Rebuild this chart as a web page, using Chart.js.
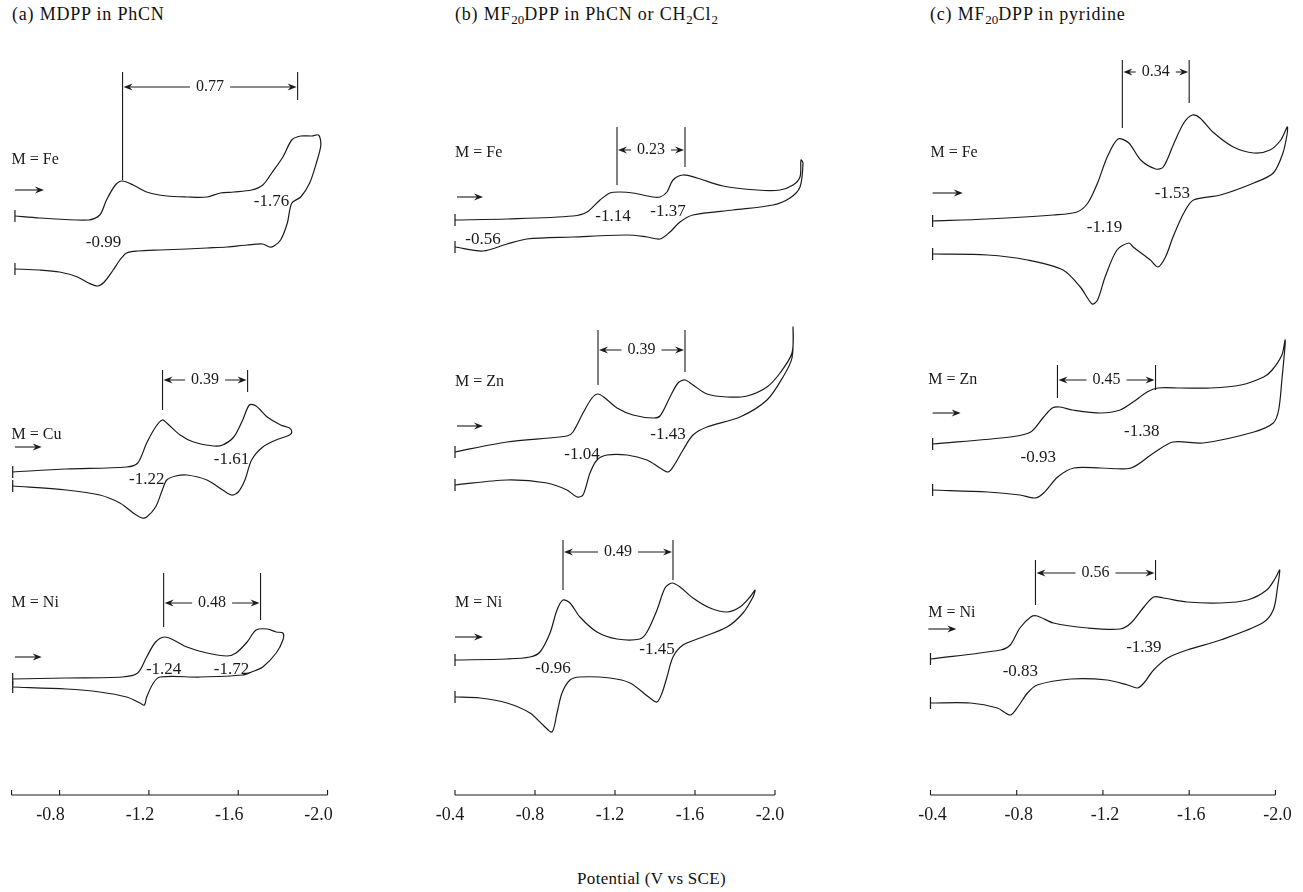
<!DOCTYPE html>
<html>
<head>
<meta charset="utf-8">
<script src="https://cdn.jsdelivr.net/npm/chart.js@4.4.0/dist/chart.umd.min.js"></script>
<style>
  body { margin:0; background:#fff; width:1303px; height:892px; overflow:hidden; position:relative;
         font-family:"Liberation Serif","DejaVu Serif",serif; color:#111; }
  .box { position:absolute; top:0; height:892px; }
  .ttl { position:absolute; top:4px; font-size:18px; letter-spacing:0.8px; white-space:nowrap; }
  .ttl sub { font-size:13px; vertical-align:-4px; line-height:0; letter-spacing:0; }
  #xlab { position:absolute; top:869px; left:0; width:1303px; text-align:center; font-size:17px; letter-spacing:0.3px; }
</style>
</head>
<body>
<div class="ttl" style="left:12px">(a) MDPP in PhCN</div>
<div class="ttl" style="left:455px">(b) MF<sub>20</sub>DPP in PhCN or CH<sub>2</sub>Cl<sub>2</sub></div>
<div class="ttl" style="left:930px">(c) MF<sub>20</sub>DPP in pyridine</div>
<div id="xlab">Potential (V vs SCE)</div>
<div class="box" id="boxa"><canvas id="cva"></canvas></div>
<div class="box" id="boxb"><canvas id="cvb"></canvas></div>
<div class="box" id="boxc"><canvas id="cvc"></canvas></div>
<script>
// potential (V vs SCE), current (a.u., traces stacked)
// (a) MDPP in PhCN
const aFe = [[-0.60,579],[-0.71,577],[-0.93,575],[-0.98,580],[-1.01,595],[-1.05,610],[-1.08,614],[-1.13,610],[-1.19,603],[-1.28,599],[-1.37,598],[-1.46,598],[-1.52,602],[-1.58,603],[-1.66,605],[-1.71,610],[-1.75,622],[-1.80,638],[-1.84,655],[-1.88,659],[-1.93,659],[-1.96,660],[-1.97,650],[-1.95,632],[-1.92,612],[-1.88,598],[-1.84,592],[-1.82,572],[-1.79,555],[-1.76,549],[-1.74,548],[-1.71,551],[-1.64,550],[-1.55,548],[-1.46,547],[-1.37,546],[-1.25,545],[-1.15,544],[-1.10,542],[-1.07,535],[-1.04,525],[-1.00,513],[-0.97,509],[-0.93,512],[-0.88,518],[-0.80,523],[-0.71,525],[-0.60,526]];
const aCu = [[-0.59,323],[-0.83,326],[-1.10,328],[-1.15,332],[-1.19,352],[-1.23,368],[-1.26,375],[-1.28,372],[-1.34,360],[-1.40,353],[-1.49,349],[-1.53,350],[-1.58,358],[-1.62,375],[-1.65,390],[-1.68,389],[-1.73,378],[-1.79,370],[-1.83,367],[-1.84,363],[-1.83,360],[-1.77,355],[-1.71,348],[-1.66,335],[-1.63,315],[-1.60,303],[-1.57,300],[-1.53,305],[-1.46,315],[-1.37,320],[-1.32,319],[-1.28,315],[-1.26,305],[-1.23,288],[-1.19,278],[-1.17,277],[-1.13,282],[-1.07,292],[-0.98,300],[-0.83,305],[-0.59,309]];
const aNi = [[-0.59,116],[-0.83,117],[-1.08,118],[-1.15,122],[-1.19,138],[-1.23,153],[-1.27,158],[-1.31,155],[-1.37,148],[-1.46,142],[-1.55,139],[-1.59,142],[-1.64,153],[-1.68,165],[-1.73,166],[-1.77,163],[-1.80,162],[-1.80,155],[-1.77,142],[-1.71,128],[-1.66,123],[-1.62,120],[-1.43,118],[-1.25,118],[-1.22,112],[-1.19,98],[-1.18,90],[-1.16,92],[-1.10,98],[-0.98,103],[-0.83,106],[-0.59,108]];
// (b) MF20DPP in PhCN or CH2Cl2
const bFe = [[-0.40,575],[-0.66,576],[-0.99,579],[-1.06,583],[-1.125,595],[-1.175,602],[-1.225,603],[-1.29,602],[-1.39,598],[-1.425,598],[-1.46,603],[-1.49,615],[-1.54,620],[-1.61,617],[-1.74,609],[-1.91,605],[-2.025,605],[-2.09,610],[-2.125,618],[-2.13,635],[-2.14,632],[-2.125,608],[-2.075,597],[-1.99,590],[-1.79,585],[-1.59,580],[-1.525,573],[-1.475,563],[-1.425,556],[-1.36,558],[-1.26,560],[-0.99,558],[-0.76,556],[-0.66,551],[-0.54,544],[-0.40,548]];
const bZn = [[-0.40,343],[-0.66,353],[-0.96,359],[-0.99,363],[-1.04,382],[-1.085,397],[-1.115,401],[-1.15,397],[-1.21,387],[-1.29,380],[-1.39,377],[-1.425,379],[-1.475,398],[-1.515,412],[-1.55,415],[-1.59,410],[-1.66,401],[-1.76,398],[-1.86,399],[-1.96,408],[-2.025,422],[-2.085,442],[-2.09,468],[-2.085,437],[-2.04,418],[-1.96,395],[-1.825,378],[-1.66,368],[-1.59,360],[-1.54,345],[-1.49,328],[-1.465,323],[-1.425,327],[-1.36,335],[-1.26,340],[-1.16,340],[-1.11,335],[-1.075,322],[-1.04,300],[-1.01,298],[-0.96,305],[-0.86,312],[-0.66,315],[-0.40,310]];
const bNi = [[-0.40,135],[-0.66,136],[-0.775,138],[-0.825,143],[-0.875,162],[-0.91,185],[-0.94,195],[-0.975,192],[-1.025,178],[-1.11,163],[-1.21,156],[-1.325,156],[-1.36,163],[-1.41,185],[-1.45,207],[-1.485,212],[-1.525,208],[-1.59,197],[-1.675,187],[-1.76,183],[-1.825,188],[-1.875,198],[-1.90,205],[-1.89,198],[-1.84,182],[-1.76,168],[-1.625,157],[-1.54,150],[-1.49,138],[-1.46,118],[-1.435,102],[-1.41,93],[-1.375,97],[-1.275,112],[-1.175,117],[-1.025,118],[-0.975,115],[-0.935,102],[-0.91,82],[-0.885,63],[-0.84,70],[-0.775,82],[-0.66,92],[-0.525,97],[-0.40,98]];
// (c) MF20DPP in pyridine
const cFe = [[-0.41,574],[-0.66,576],[-0.97,580],[-1.08,583],[-1.13,592],[-1.175,612],[-1.22,638],[-1.27,656],[-1.32,652],[-1.375,635],[-1.445,626],[-1.48,628],[-1.53,652],[-1.575,672],[-1.615,680],[-1.65,677],[-1.71,663],[-1.805,648],[-1.90,642],[-1.975,645],[-2.025,655],[-2.055,668],[-2.055,662],[-2.035,642],[-1.99,622],[-1.90,612],[-1.745,600],[-1.62,595],[-1.575,582],[-1.525,558],[-1.49,538],[-1.455,528],[-1.42,535],[-1.34,548],[-1.32,552],[-1.265,545],[-1.21,518],[-1.175,495],[-1.15,491],[-1.095,508],[-1.015,525],[-0.85,535],[-0.665,540],[-0.41,541]];
const cZn = [[-0.41,351],[-0.77,358],[-0.865,363],[-0.925,378],[-0.965,387],[-1.00,388],[-1.06,385],[-1.19,382],[-1.28,385],[-1.34,393],[-1.405,403],[-1.455,407],[-1.56,407],[-1.70,407],[-1.84,410],[-1.945,418],[-1.985,425],[-2.03,440],[-2.045,455],[-2.045,450],[-2.03,415],[-2.015,385],[-1.99,372],[-1.90,363],[-1.665,352],[-1.525,353],[-1.435,342],[-1.33,327],[-1.19,327],[-1.065,327],[-0.99,318],[-0.925,302],[-0.885,297],[-0.815,300],[-0.665,303],[-0.41,305]];
const cNi = [[-0.40,136],[-0.725,145],[-0.77,150],[-0.815,167],[-0.865,178],[-0.895,179],[-0.97,172],[-1.13,167],[-1.28,166],[-1.33,172],[-1.39,188],[-1.435,198],[-1.48,197],[-1.59,193],[-1.745,192],[-1.87,195],[-1.96,205],[-2.00,217],[-2.02,225],[-2.01,208],[-1.99,185],[-1.94,172],[-1.745,155],[-1.59,145],[-1.50,137],[-1.435,125],[-1.39,112],[-1.36,107],[-1.315,110],[-1.22,115],[-1.05,116],[-0.895,110],[-0.85,102],[-0.805,88],[-0.77,80],[-0.71,87],[-0.585,92],[-0.40,92]];

// axis ticks
const aTicks = [-0.8, -1.2, -1.6, -2.0];
const bTicks = [-0.4, -0.8, -1.2, -1.6, -2.0];
const cTicks = [-0.4, -0.8, -1.2, -1.6, -2.0];

// labels: [text, potential, current]
const aMetal = [['M = Fe',-0.585,635],['M = Cu',-0.585,360],['M = Ni',-0.585,192]];
const bMetal = [['M = Fe',-0.40,642],['M = Zn',-0.40,413],['M = Ni',-0.40,192]];
const cMetal = [['M = Fe',-0.40,642],['M = Zn',-0.39,415],['M = Ni',-0.39,182]];
const aPeaks = [['-0.99',-0.997,552],['-1.76',-1.749,593],['-1.22',-1.19,315],['-1.61',-1.57,335],['-1.24',-1.266,125],['-1.72',-1.57,125]];
const bPeaks = [['-0.56',-0.54,555],['-1.14',-1.19,578],['-1.37',-1.465,583],['-1.04',-1.035,340],['-1.43',-1.465,360],['-0.96',-0.89,126],['-1.45',-1.41,145]];
const cPeaks = [['-1.19',-1.207,567],['-1.53',-1.522,601],['-0.93',-0.90,337],['-1.38',-1.38,363],['-0.83',-0.817,123],['-1.39',-1.39,147]];
// scan direction arrows: [from, to, current]
const aScan = [[-0.60,-0.73,605],[-0.60,-0.72,348],[-0.60,-0.72,138]];
const bScan = [[-0.41,-0.54,598],[-0.41,-0.54,369],[-0.40,-0.54,158]];
const cScan = [[-0.41,-0.55,602],[-0.41,-0.54,382],[-0.39,-0.52,166]];
// peak separations: [text, left E, right E, arrow level, left foot, right foot, top]
const aGaps = [['0.77',-1.082,-1.866,708,615,695,723],['0.39',-1.261,-1.642,415,385,403,425],['0.48',-1.266,-1.700,192,168,175,222]];
const bGaps = [['0.23',-1.21,-1.55,645,610,628,668],['0.39',-1.115,-1.55,445,410,423,465],['0.49',-0.94,-1.49,243,205,215,255]];
const cGaps = [['0.34',-1.29,-1.60,723,667,692,735],['0.45',-0.989,-1.444,415,397,405,430],['0.56',-0.887,-1.444,222,190,215,235]];

const INK = '#1a1a1a';
const SERIF = '"Liberation Serif", "DejaVu Serif", serif';
const PAD = 30, TOP = 40, AXIS_Y = 795, XAXIS_H = 40, H = 892;

const panels = [
  { id:'a', traces:[aFe,aCu,aNi], ticks:aTicks, axis:[-0.585,-2.0], metal:aMetal, peaks:aPeaks, scan:aScan, gaps:aGaps,
    px0:60, e0:-0.8, pxPerV:223.3, eLeft:-0.56, eRight:-2.02, labelOffset:-9 },
  { id:'b', traces:[bFe,bZn,bNi], ticks:bTicks, axis:[-0.4,-2.0], metal:bMetal, peaks:bPeaks, scan:bScan, gaps:bGaps,
    px0:455, e0:-0.4, pxPerV:200, eLeft:-0.37, eRight:-2.16, labelOffset:-5 },
  { id:'c', traces:[cFe,cZn,cNi], ticks:cTicks, axis:[-0.4,-2.0], metal:cMetal, peaks:cPeaks, scan:cScan, gaps:cGaps,
    px0:930, e0:-0.4, pxPerV:215.6, eLeft:-0.37, eRight:-2.07, labelOffset:2 }
];

function head(ctx, x, y, dir) {
  ctx.beginPath();
  ctx.moveTo(x, y);
  ctx.lineTo(x - dir * 9, y - 3.5);
  ctx.lineTo(x - dir * 6, y);
  ctx.lineTo(x - dir * 9, y + 3.5);
  ctx.closePath();
  ctx.fill();
}

function decor(p) {
  return {
    id: 'decor' + p.id,
    afterDraw(chart) {
      const ctx = chart.ctx, x = chart.scales.x, y = chart.scales.y;
      const X = v => x.getPixelForValue(v), Y = v => y.getPixelForValue(v);
      ctx.save();
      ctx.strokeStyle = INK; ctx.fillStyle = INK; ctx.lineWidth = 1.1;

      // bottom axis with upward ticks
      const yb = chart.chartArea.bottom;
      ctx.beginPath();
      ctx.moveTo(X(p.axis[0]), yb); ctx.lineTo(X(p.axis[1]), yb);
      [p.axis[0], ...p.ticks, p.axis[1]].forEach(v => { ctx.moveTo(X(v), yb); ctx.lineTo(X(v), yb - 5); });
      ctx.stroke();

      ctx.textBaseline = 'middle';
      ctx.font = '16px ' + SERIF; ctx.textAlign = 'left';
      p.metal.forEach(([t, e, v]) => ctx.fillText(t, X(e), Y(v)));
      ctx.font = '17px ' + SERIF; ctx.textAlign = 'center';
      p.peaks.forEach(([t, e, v]) => ctx.fillText(t, X(e), Y(v)));

      // scan direction
      p.scan.forEach(([e1, e2, v]) => {
        const x1 = X(e1), x2 = X(e2), yy = Y(v);
        ctx.beginPath(); ctx.moveTo(x1, yy); ctx.lineTo(x2 - 4, yy); ctx.stroke();
        head(ctx, x2, yy, 1);
      });

      // peak separation brackets
      ctx.font = '16px ' + SERIF;
      p.gaps.forEach(([t, eL, eR, va, vl, vr, vt]) => {
        const xl = X(eL), xr = X(eR), ya = Y(va);
        ctx.beginPath();
        ctx.moveTo(xl, Y(vl)); ctx.lineTo(xl, Y(vt));
        ctx.moveTo(xr, Y(vr)); ctx.lineTo(xr, Y(vt));
        const mid = (xl + xr) / 2, half = ctx.measureText(t).width / 2 + 6;
        ctx.moveTo(mid - half, ya); ctx.lineTo(xl + 4, ya);
        ctx.moveTo(mid + half, ya); ctx.lineTo(xr - 4, ya);
        ctx.stroke();
        head(ctx, xl + 1, ya, -1);
        head(ctx, xr - 1, ya, 1);
        ctx.fillText(t, mid, ya);
      });
      ctx.restore();
    }
  };
}

panels.forEach(p => {
  const areaLeft = p.px0 + (p.e0 - p.eLeft) * p.pxPerV;
  const areaRight = p.px0 + (p.e0 - p.eRight) * p.pxPerV;
  const box = document.getElementById('box' + p.id);
  box.style.left = (areaLeft - PAD) + 'px';
  box.style.width = (areaRight - areaLeft + 2 * PAD) + 'px';

  const datasets = p.traces.map(t => ({
    data: t.map(([e, i]) => ({ x: e, y: i })),
    showLine: true, borderColor: INK, borderWidth: 1.2, pointRadius: 0, tension: 0.3, fill: false
  }));
  // starting-potential marks at the left end of each scan
  const starts = [];
  p.traces.forEach(t => { starts.push({ x: t[0][0], y: t[0][1] }, { x: t[t.length - 1][0], y: t[t.length - 1][1] }); });
  datasets.push({ data: starts, showLine: false, pointStyle: 'line', pointRotation: 90, pointRadius: 6,
                  pointBorderColor: INK, pointBorderWidth: 1.2 });

  new Chart(document.getElementById('cv' + p.id), {
    type: 'scatter',
    data: { datasets },
    options: {
      responsive: true, maintainAspectRatio: false, animation: false,
      layout: { padding: { left: PAD, right: PAD, top: TOP, bottom: H - AXIS_Y - XAXIS_H } },
      plugins: { legend: { display: false }, tooltip: { enabled: false } },
      scales: {
        x: {
          type: 'linear', reverse: true, min: p.eRight, max: p.eLeft,
          grid: { display: false, drawTicks: false }, border: { display: false },
          afterBuildTicks: s => { s.ticks = p.ticks.map(v => ({ value: v })); },
          afterFit: s => { s.height = XAXIS_H; },
          ticks: { padding: 9, labelOffset: p.labelOffset, color: INK, autoSkip: false, maxRotation: 0,
                   font: { family: SERIF, size: 18 }, callback: v => v.toFixed(1) }
        },
        y: { display: false, min: 0, max: AXIS_Y - TOP }
      }
    },
    plugins: [decor(p)]
  });
});
</script>
</body>
</html>
